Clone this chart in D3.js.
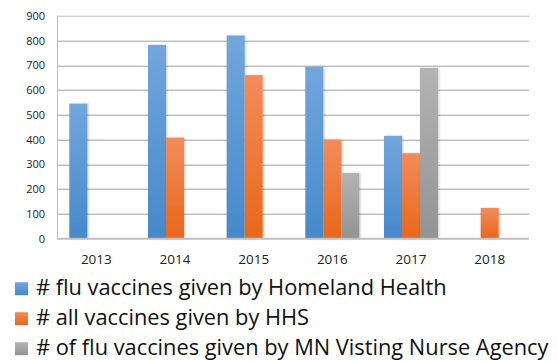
<!DOCTYPE html>
<html>
<head>
<meta charset="utf-8">
<script src="https://cdn.jsdelivr.net/npm/d3@7"></script>
<style>
  html, body { margin: 0; padding: 0; background: #fff; }
  svg { display: block; }
</style>
</head>
<body>
<svg id="chart" width="558" height="361"></svg>
<script>
// Vaccination counts by year
const years = ["2013", "2014", "2015", "2016", "2017", "2018"];
const homelandFlu = [545, 782, 820, 693, 415, null];
const hhsAll = [null, 408, 660, 400, 345, 124];
const mnNurseFlu = [null, null, null, 265, 689, null];
const seriesNames = [
  "# flu vaccines given by Homeland Health",
  "# all vaccines given by HHS",
  "# of flu vaccines given by MN Visting Nurse Agency"
];
const yTicks = [0, 100, 200, 300, 400, 500, 600, 700, 800, 900];

const series = [
  { name: seriesNames[0], values: homelandFlu, top: "#72a6dc", bottom: "#4589cb" },
  { name: seriesNames[1], values: hhsAll, top: "#f28c5c", bottom: "#e8671a" },
  { name: seriesNames[2], values: mnNurseFlu, top: "#b3b3b3", bottom: "#939393" }
];

const svg = d3.select("#chart");
const margin = { left: 57, right: 29, top: 15.7, bottom: 122.3 };
const W = 558, H = 361;
const plotW = W - margin.left - margin.right;
const plotH = H - margin.top - margin.bottom;

const x = d3.scaleBand().domain(years).range([0, plotW]);
const inner = d3.scaleBand().domain(d3.range(series.length)).range([0, x.bandwidth()])
  .paddingInner(0).paddingOuter(0.685);
const y = d3.scaleLinear().domain([0, 900]).range([plotH, 0]);

const defs = svg.append("defs");
series.forEach((s, i) => {
  const g = defs.append("linearGradient").attr("id", "grad" + i)
    .attr("x1", 0).attr("y1", 0).attr("x2", 0).attr("y2", 1);
  g.append("stop").attr("offset", "0%").attr("stop-color", s.top);
  g.append("stop").attr("offset", "100%").attr("stop-color", s.bottom);
});
const shadow = defs.append("filter").attr("id", "shadow")
  .attr("x", "-20%").attr("y", "-10%").attr("width", "150%").attr("height", "120%");
shadow.append("feDropShadow").attr("dx", 1).attr("dy", 0).attr("stdDeviation", 1)
  .attr("flood-color", "#000").attr("flood-opacity", 0.22);

const plot = svg.append("g").attr("transform", `translate(${margin.left},${margin.top})`);

// Horizontal gridlines
plot.append("g").selectAll("line").data(yTicks.filter(t => t > 0)).join("line")
  .attr("x1", 0).attr("x2", plotW)
  .attr("y1", d => Math.round(y(d)) + 0.5).attr("y2", d => Math.round(y(d)) + 0.5)
  .attr("stroke", d => d === 900 ? "#bdbdbd" : "#a0a0a0").attr("stroke-width", 1);

// Left axis line
plot.append("line").attr("x1", 0.5).attr("x2", 0.5).attr("y1", y(900)).attr("y2", y(0))
  .attr("stroke", "#bfbfbf").attr("stroke-width", 1);

// Bars
series.forEach((s, i) => {
  plot.append("g").selectAll("rect")
    .data(years.map((yr, k) => ({ yr, v: s.values[k] })).filter(d => d.v != null))
    .join("rect")
    .attr("x", d => x(d.yr) + inner(i))
    .attr("width", inner.bandwidth())
    .attr("y", d => y(d.v))
    .attr("height", d => y(0) - y(d.v))
    .attr("fill", `url(#grad${i})`)
    .attr("filter", "url(#shadow)");
});

// Baseline
plot.append("line").attr("x1", 0).attr("x2", plotW)
  .attr("y1", y(0)).attr("y2", y(0))
  .attr("stroke", "#bfbfbf").attr("stroke-width", 2);

// Y axis labels
const yAxis = d3.axisLeft(y).tickValues(yTicks).tickSize(0).tickPadding(12);
plot.append("g").call(yAxis)
  .call(g => g.select(".domain").remove())
  .call(g => g.selectAll("text")
    .attr("font-family", "'Open Sans', sans-serif").attr("font-size", 11).attr("fill", "#222"));

// X axis labels
const xAxis = d3.axisBottom(x).tickSize(0).tickPadding(16);
plot.append("g").attr("transform", `translate(0,${plotH})`).call(xAxis)
  .call(g => g.select(".domain").remove())
  .call(g => g.selectAll("text")
    .attr("font-family", "'Open Sans', sans-serif").attr("font-size", 13.5).attr("fill", "#222"));

// Legend
const legend = svg.append("g").attr("transform", "translate(15,288.7)");
series.forEach((s, i) => {
  const row = legend.append("g").attr("transform", `translate(0,${i * 30})`);
  row.append("rect").attr("y", -6.5).attr("width", 13).attr("height", 13).attr("fill", `url(#grad${i})`);
  row.append("text").attr("x", 21).attr("y", 0).attr("dy", "0.3em")
    .attr("font-family", "'Open Sans', sans-serif").attr("font-size", 21.8).attr("fill", "#111")
    .text(s.name);
});
</script>
</body>
</html>
